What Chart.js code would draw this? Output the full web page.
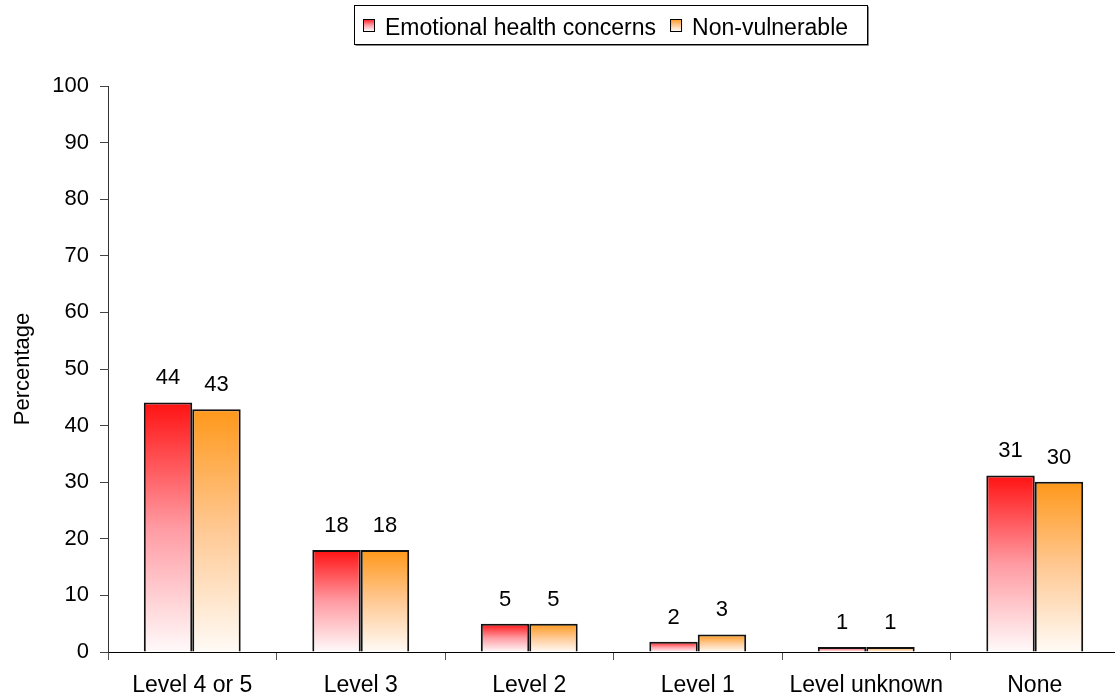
<!DOCTYPE html>
<html>
<head>
<meta charset="utf-8">
<script src="https://cdn.jsdelivr.net/npm/chart.js@4/dist/chart.umd.min.js"></script>
<style>
  html, body { margin: 0; padding: 0; background: #fff; overflow: hidden; }
  canvas { display: block; }
</style>
</head>
<body>
<canvas id="levels" width="1119" height="698"></canvas>
<script>
// values (labels show the rounded numbers)
const categories = ['Level 4 or 5', 'Level 3', 'Level 2', 'Level 1', 'Level unknown', 'None'];
const emotional = [44.1, 18.0, 5.0, 1.8, 0.9, 31.2];
const nonVulnerable = [42.9, 18.0, 5.0, 3.1, 0.9, 30.1];
const seriesNames = ['Emotional health concerns', 'Non-vulnerable'];
const yTicks = [0, 10, 20, 30, 40, 50, 60, 70, 80, 90, 100];

const FONT = "Arial, 'Liberation Sans', sans-serif";
const redStops = ['#ff1212', '#ff9aa2', '#fffafa'];
const orangeStops = ['#ff981a', '#ffc994', '#fffbf6'];

// vertical gradient from the top of each bar down to the baseline
function barFill(stops) {
    return function (context) {
        const chart = context.chart;
        if (!chart.chartArea || context.type !== 'data' || !context.parsed) return stops[0];
        const y = chart.scales.y;
        const g = chart.ctx.createLinearGradient(0, y.getPixelForValue(context.parsed.y), 0, y.getPixelForValue(0));
        g.addColorStop(0, stops[0]);
        g.addColorStop(0.5, stops[1]);
        g.addColorStop(1, stops[2]);
        return g;
    };
}

// numbers above the bars
const valueLabels = {
    id: 'valueLabels',
    afterDatasetsDraw(chart) {
        const ctx = chart.ctx;
        ctx.save();
        ctx.font = '22px ' + FONT;
        ctx.fillStyle = '#000';
        ctx.textAlign = 'center';
        ctx.textBaseline = 'alphabetic';
        chart.data.datasets.forEach((ds, i) => {
            chart.getDatasetMeta(i).data.forEach((bar, j) => {
                ctx.fillText(String(Math.round(ds.data[j])), bar.x, bar.y - 18);
            });
        });
        ctx.restore();
    }
};

// boxed legend at the top, like the original
const boxedLegend = {
    id: 'boxedLegend',
    afterDraw(chart) {
        const ctx = chart.ctx;
        ctx.save();
        ctx.font = '23px ' + FONT;
        ctx.textBaseline = 'alphabetic';
        // frame
        ctx.fillStyle = '#fff';
        ctx.fillRect(354.5, 5.5, 513, 39);
        ctx.strokeStyle = '#888';
        ctx.lineWidth = 1;
        ctx.beginPath();
        ctx.moveTo(868.5, 6.5); ctx.lineTo(868.5, 45.5); ctx.lineTo(355.5, 45.5);
        ctx.stroke();
        ctx.strokeStyle = '#000';
        ctx.strokeRect(354.5, 5.5, 513, 39);

        let x = 363;
        [redStops, orangeStops].forEach((stops, i) => {
            const g = ctx.createLinearGradient(0, 19, 0, 31);
            g.addColorStop(0, stops[0]);
            g.addColorStop(0.5, stops[1]);
            g.addColorStop(1, stops[2]);
            ctx.fillStyle = g;
            ctx.fillRect(x + 0.5, 19.5, 11, 12);
            ctx.strokeStyle = '#000';
            ctx.strokeRect(x + 0.5, 19.5, 11, 12);
            ctx.fillStyle = '#000';
            ctx.fillText(seriesNames[i], x + 22, 35);
            x += 22 + ctx.measureText(seriesNames[i]).width + 14;
        });
        ctx.restore();
    }
};

const ctx = document.getElementById('levels').getContext('2d');
new Chart(ctx, {
    type: 'bar',
    data: {
        labels: categories,
        datasets: [
            { label: seriesNames[0], data: emotional, backgroundColor: barFill(redStops), borderColor: '#111', borderWidth: 2 },
            { label: seriesNames[1], data: nonVulnerable, backgroundColor: barFill(orangeStops), borderColor: '#111', borderWidth: 2 }
        ]
    },
    options: {
        responsive: false,
        animation: false,
        categoryPercentage: 0.575,
        barPercentage: 1,
        layout: { padding: { top: 86, left: 0, right: 0, bottom: 0 } },
        plugins: {
            legend: { display: false },
            tooltip: { enabled: false }
        },
        scales: {
            x: {
                offset: true,
                grid: { offset: true, drawOnChartArea: false, drawTicks: true, tickLength: 8, color: '#555' },
                border: { color: '#000', width: 1 },
                ticks: { font: { family: FONT, size: 23 }, color: '#000', padding: 12, maxRotation: 0 },
                afterFit(scale) { scale.height = 46; }
            },
            y: {
                min: 0,
                max: 100,
                afterBuildTicks(scale) { scale.ticks = yTicks.map(v => ({ value: v })); },
                grid: { drawOnChartArea: false, drawTicks: true, tickLength: 8, color: '#444' },
                border: { color: '#333', width: 1 },
                ticks: { font: { family: FONT, size: 22 }, color: '#000', padding: 11 },
                title: { display: true, text: 'Percentage', font: { family: FONT, size: 22 }, color: '#000', padding: { top: 10, bottom: 0 } },
                afterFit(scale) { scale.width = 108; }
            }
        }
    },
    plugins: [valueLabels, boxedLegend]
});
</script>
</body>
</html>
